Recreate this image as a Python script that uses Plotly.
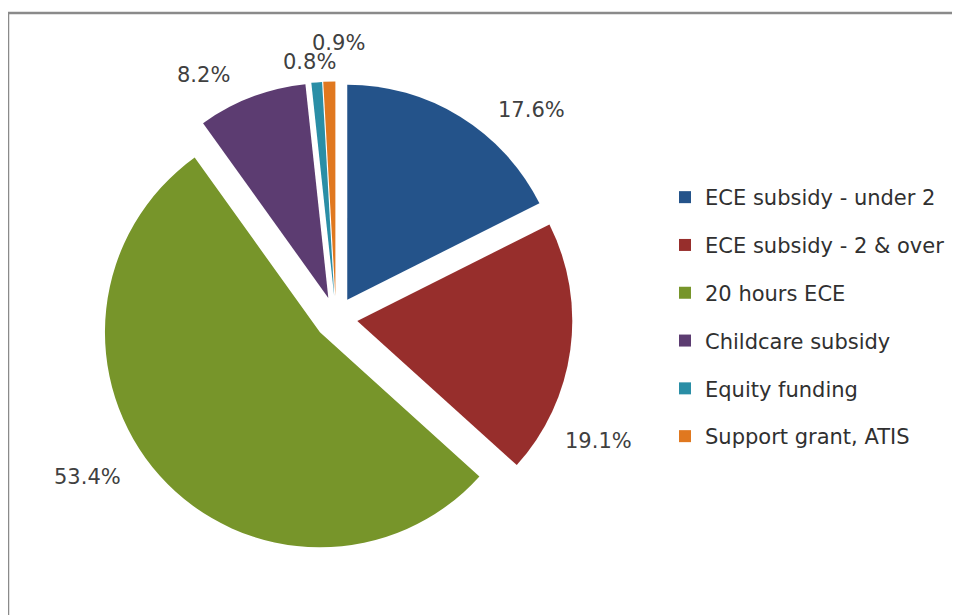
import plotly.graph_objects as go

categories = ["ECE subsidy - under 2", "ECE subsidy - 2 & over", "20 hours ECE",
              "Childcare subsidy", "Equity funding", "Support grant, ATIS"]
shares = [17.6, 19.1, 53.4, 8.2, 0.8, 0.9]
colors = ["#24538a", "#972e2c", "#77952a", "#5c3c71", "#2a8ea6", "#e0781f"]

FONT = "DejaVu Sans"
W, H = 960, 615

# data-label anchor positions (figure pixels, Excel "best fit" placement)
label_xy = [(523.5, 102), (590.5, 433), (79, 469), (195, 67), (301, 53.5), (330, 35)]

fig = go.Figure()
fig.add_trace(go.Pie(
    labels=categories, values=shares, sort=False, direction="clockwise", rotation=0,
    pull=[0.1] * len(shares),
    marker=dict(colors=colors, line=dict(width=0)),
    textinfo="none",
    showlegend=False, hoverinfo="label+percent",
    domain=dict(x=[0.0953, 0.5880], y=[0.1114, 0.8805]),
))

for i, (c, col) in enumerate(zip(categories, colors)):
    fig.add_trace(go.Scatter(
        x=[None], y=[None], mode="markers", name=c, legendgroup=f"g{i}",
        marker=dict(symbol="square", size=12, color=col), showlegend=True,
    ))

annotations = []
for v, (px, py) in zip(shares, label_xy):
    annotations.append(dict(
        text=f"{v:.1f}%", x=px / W, y=1 - py / H, xref="paper", yref="paper",
        xanchor="center", yanchor="middle", showarrow=False,
        font=dict(family=FONT, size=21, color="#404040"),
    ))

fig.update_layout(
    width=W, height=H,
    margin=dict(l=0, r=0, t=0, b=0, pad=0, autoexpand=False),
    paper_bgcolor="white", plot_bgcolor="white",
    xaxis=dict(visible=False), yaxis=dict(visible=False),
    legend=dict(x=657 / W, y=1 - 169 / H, xanchor="left", yanchor="top",
                traceorder="grouped", tracegroupgap=17.5,
                font=dict(family=FONT, size=21, color="#303030"),
                itemwidth=30, bgcolor="rgba(0,0,0,0)"),
    annotations=annotations,
    shapes=[dict(type="rect", xref="paper", yref="paper",
                 x0=0, x1=1.02, y0=-0.02, y1=1 - 5 / H,
                 line=dict(color="#8a8a8a", width=2.5))],
)

fig.write_html("out.html")
